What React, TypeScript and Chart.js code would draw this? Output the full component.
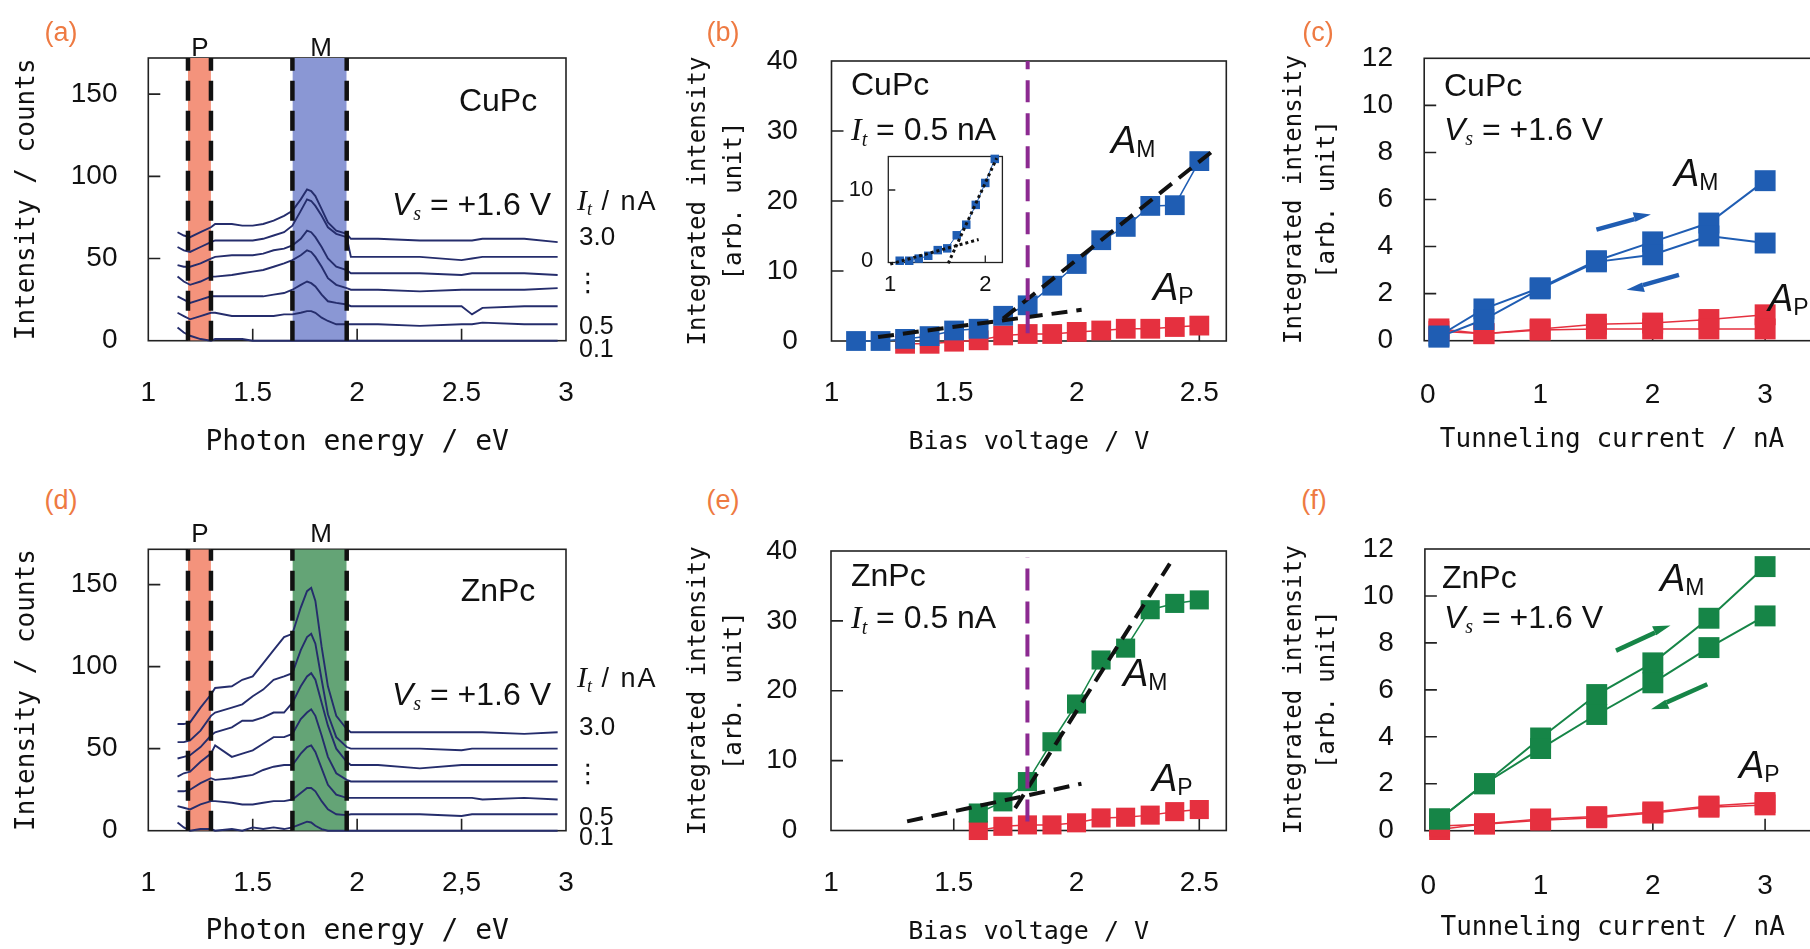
import React, { useEffect, useRef } from 'react';
import { Chart, registerables } from 'chart.js';

Chart.register(...registerables);

const SANS = "'Liberation Sans', Arial, Helvetica, sans-serif";
const SERIF = "'Liberation Serif', 'Times New Roman', serif";
const MONO = "'DejaVu Sans Mono', 'Liberation Mono', monospace";

const NAVY = '#252d6c';
const BLUE = '#1f5db3';
const RED = '#e5303f';
const GREEN = '#168547';
const PURPLE = '#8c2a91';
const SALMON = '#f4937c';
const PERI = '#8a97d4';
const MGREEN = '#64a476';
const ORANGE = '#ee7a42';
const INK = '#111111';

// ---------------- (a), (d) spectra ----------------
const photonEnergy = [1.14, 1.17, 1.2, 1.25, 1.3, 1.32, 1.4, 1.45, 1.5, 1.55, 1.6, 1.65, 1.69, 1.73, 1.76, 1.78, 1.8, 1.83, 1.86, 1.9, 1.95, 1.97, 2.1, 2.3, 2.5, 2.55, 2.6, 2.8, 2.96];
const cuSpec30 = [66, 64, 63, 66, 69, 71, 71, 70, 70, 71, 73, 76, 79, 86, 92, 91, 88, 80, 72, 67, 65, 62, 62, 61, 61, 61, 62, 62, 60];
const cuSpec25 = [57, 55, 54, 57, 60, 61, 61, 61, 61, 62, 64, 66, 70, 79, 86, 85, 82, 76, 69, 65, 63, 51, 51, 51, 49, 50, 51, 51, 51];
const cuSpec20 = [46, 45, 45, 47, 50, 51, 52, 52, 52, 53, 55, 56, 58, 62, 67, 66, 63, 57, 50, 45, 43, 41, 41, 41, 40, 41, 41, 41, 40];
const cuSpec15 = [39, 36, 34, 36, 39, 39, 40, 41, 42, 43, 45, 47, 49, 52, 55, 54, 51, 45, 38, 34, 32, 31, 31, 30, 31, 31, 31, 31, 32];
const cuSpec10 = [27, 25, 23, 25, 27, 27, 27, 27, 27, 27, 28, 29, 31, 34, 36, 35, 33, 28, 24, 23, 22, 21, 21, 21, 21, 16, 20, 21, 21];
const cuSpec05 = [17, 15, 13, 15, 17, 17, 15, 15, 15, 15, 15, 16, 16, 17, 18, 18, 17, 14, 12, 10, 10, 10, 10, 9, 10, 10, 11, 10, 10];
const cuSpec01 = [8, 5, 3, 1, 0, 1, 1, 1, 0, 0, 0, 0, 0, 0, 0, 0, 0, 0, 0, 0, 0, 0, 0, 0, 0, 0, 0, 0, 0];

const znSpec30 = [65, 65, 66, 75, 83, 87, 88, 92, 94, 102, 110, 118, 120, 136, 146, 148, 140, 112, 88, 70, 62, 60, 60, 60, 60, 60, 60, 59, 60];
const znSpec25 = [54, 54, 55, 61, 70, 72, 75, 77, 82, 86, 92, 94, 96, 110, 118, 120, 114, 92, 71, 57, 51, 50, 50, 50, 49, 50, 50, 50, 50];
const znSpec20 = [44, 45, 46, 51, 58, 60, 63, 67, 67, 69, 72, 72, 78, 88, 94, 96, 92, 78, 64, 50, 42, 40, 40, 38, 40, 40, 40, 40, 40];
const znSpec15 = [33, 35, 36, 42, 47, 52, 45, 47, 49, 53, 57, 57, 59, 68, 72, 74, 70, 58, 45, 35, 31, 30, 30, 30, 30, 30, 30, 30, 30];
const znSpec10 = [24, 24, 25, 29, 32, 31, 32, 33, 34, 37, 39, 40, 40, 47, 51, 52, 48, 38, 28, 22, 20, 20, 20, 20, 20, 20, 19, 20, 19];
const znSpec05 = [15, 14, 13, 16, 18, 18, 17, 16, 16, 17, 18, 18, 19, 23, 26, 26, 24, 18, 13, 10, 9.5, 10, 10, 10, 9, 10, 10, 10, 10];
const znSpec01 = [5, 2, 0, 1, 1, 0, 1, 0, 2, 1, 2, 1, 2, 4, 5.5, 5, 3, 1, 0, 0, 0, 0, 0, 0, 0, 0, 0, 0, 0];

const bandP = [1.19, 1.3];
const bandM = [1.69, 1.95];

const energyTicks = [1, 1.5, 2, 2.5, 3];
const energyLabelsCu = ['1', '1.5', '2', '2.5', '3'];
const energyLabelsZn = ['1', '1.5', '2', '2,5', '3'];
const countTicks = [0, 50, 100, 150];
const countLabels = ['0', '50', '100', '150'];

// ---------------- (b), (e) bias dependence ----------------
const biasCu = [1.1, 1.2, 1.3, 1.4, 1.5, 1.6, 1.7, 1.8, 1.9, 2.0, 2.1, 2.2, 2.3, 2.4, 2.5];
const cuAM = [0, 0, 0.3, 0.7, 1.5, 1.75, 3.6, 5.1, 7.9, 11.0, 14.4, 16.3, 19.3, 19.4, 25.7];
const biasCuP = [1.3, 1.4, 1.5, 1.6, 1.7, 1.8, 1.9, 2.0, 2.1, 2.2, 2.3, 2.4, 2.5];
const cuAP = [-0.4, -0.4, -0.1, 0.1, 0.8, 1.0, 1.0, 1.3, 1.5, 1.75, 1.75, 2.0, 2.2];
const cuFitLowX = [1.19, 2.02];
const cuFitLowY = [0.57, 4.45];
const cuFitHighX = [1.7, 2.56];
const cuFitHighY = [3.2, 27.3];
const cuThresholdY = [1.1, 40];

const insetFitLowX = [1.0, 1.93];
const insetFitLowY = [-0.47, 3.0];
const insetFitHighX = [1.61, 2.12];
const insetFitHighY = [-0.37, 14.5];

const biasZn = [1.6, 1.7, 1.8, 1.9, 2.0, 2.1, 2.2, 2.3, 2.4, 2.5];
const znAM = [2.5, 4.1, 7.0, 12.7, 18.1, 24.4, 26.1, 31.6, 32.5, 33.0];
const znAP = [0, 0.6, 0.8, 0.8, 1.1, 1.8, 1.9, 2.2, 2.7, 3.0];
const znFitLowX = [1.31, 2.02];
const znFitLowY = [1.3, 6.7];
const znFitHighX = [1.75, 2.38];
const znFitHighY = [3.2, 38.2];
const znThresholdY = [1.3, 39.1];

const thresholdV = 1.8;
const biasTicks = [1, 1.5, 2, 2.5];
const biasLabels = ['1', '1.5', '2', '2.5'];
const areaTicks = [0, 10, 20, 30, 40];
const areaLabels = ['0', '10', '20', '30', '40'];

// ---------------- (c), (f) current dependence ----------------
const currentUp = [0.1, 0.5, 1.0, 1.5, 2.0, 2.5, 3.0];
const currentDown = [3.0, 2.5, 2.0, 1.5, 1.0, 0.5, 0.1];
const cuAMup = [0.2, 1.35, 2.25, 3.4, 4.2, 5.0, 6.8];
const cuAMdown = [4.15, 4.45, 3.65, 3.35, 2.2, 0.9, 0.15];
const cuAPup = [0.4, 0.3, 0.5, 0.7, 0.75, 0.9, 1.1];
const cuAPdown = [0.5, 0.5, 0.5, 0.5, 0.45, 0.3, 0.5];
const znAMup = [0.5, 2.0, 3.95, 5.8, 7.15, 9.05, 11.25];
const znAMdown = [9.15, 7.8, 6.3, 4.95, 3.5, 2.0, 0.5];
const znAPup = [0.05, 0.3, 0.5, 0.6, 0.8, 1.05, 1.2];
const znAPdown = [1.1, 1.0, 0.75, 0.55, 0.45, 0.28, 0.2];
const cuArrows = [[1.5, 4.72, 1.985, 5.36], [2.234, 2.8, 1.768, 2.16]];
const znArrows = [[1.672, 7.67, 2.157, 8.74], [2.485, 6.24, 1.984, 5.17]];

const currentTicks = [0, 1, 2, 3];
const currentLabels = ['0', '1', '2', '3'];
const intTicks = [0, 2, 4, 6, 8, 10, 12];
const intLabels = ['0', '2', '4', '6', '8', '10', '12'];

// ---------------- helpers ----------------
const pts = (xs: number[], ys: number[]) => xs.map((x, i) => ({ x, y: ys[i] }));

function series(xs: number[], ys: number[], color: string, r: number, order: number, lw = 1.5) {
  return {
    data: pts(xs, ys), borderColor: color, backgroundColor: color, borderWidth: lw,
    pointStyle: 'rect', pointRadius: r, pointBorderWidth: 0, pointBackgroundColor: color,
    tension: 0, order, clip: false, fill: false,
  };
}
function dashed(xs: number[], ys: number[], color: string, w: number, dash: number[], order: number) {
  return { data: pts(xs, ys), borderColor: color, borderWidth: w, borderDash: dash, pointRadius: 0, order, clip: false, fill: false, tension: 0, borderCapStyle: 'butt' };
}
function band(x: number[], top: number, color: string) {
  return { data: [{ x: x[0], y: top }, { x: x[1], y: top }], borderWidth: 0, borderColor: 'rgba(0,0,0,0)', backgroundColor: color, fill: 'origin', pointRadius: 0, order: 40 };
}
function spectrum(ys: number[]) {
  return { data: pts(photonEnergy, ys), borderColor: NAVY, borderWidth: 1.9, pointRadius: 0, order: 20, fill: false, tension: 0, clip: false };
}

function axis(spec: any, isX: boolean, size: number) {
  return {
    type: 'linear', min: spec.min, max: spec.max,
    afterFit: (s: any) => {
      if (isX) s.height = size; else s.width = size;
      s.paddingTop = 0; s.paddingBottom = 0; s.paddingLeft = 0; s.paddingRight = 0;
    },
    afterBuildTicks: (s: any) => { s.ticks = spec.ticks.map((v: number) => ({ value: v })); },
    grid: { display: false, drawTicks: false },
    border: { display: false },
    ticks: {
      autoSkip: false, maxRotation: 0, minRotation: 0, padding: spec.pad, color: INK,
      font: { family: SANS, size: spec.font || 28, lineHeight: 1.2 },
      callback: (_v: any, i: number) => spec.labels[i],
    },
    title: spec.title
      ? { display: true, text: spec.title, align: spec.align || 'center', color: INK, font: { family: MONO, size: spec.tf, lineHeight: spec.tlh || 1.2 }, padding: { top: 0, bottom: 0 } }
      : { display: false },
  };
}

function framePlugin(xt: number[], yt: number[], len: number, lw = 1.6) {
  return {
    id: 'frame',
    beforeDatasetsDraw(chart: any) {
      const { ctx, chartArea: a, scales } = chart;
      ctx.save();
      ctx.strokeStyle = '#222';
      ctx.lineWidth = lw;
      ctx.strokeRect(a.left, a.top, a.right - a.left, a.bottom - a.top);
      ctx.beginPath();
      xt.forEach((v) => { const p = scales.x.getPixelForValue(v); ctx.moveTo(p, a.bottom); ctx.lineTo(p, a.bottom - len); });
      yt.forEach((v) => { const p = scales.y.getPixelForValue(v); ctx.moveTo(a.left, p); ctx.lineTo(a.left + len, p); });
      ctx.stroke();
      ctx.restore();
    },
  };
}

function arrowPlugin(arrows: number[][], color: string) {
  return {
    id: 'arrows',
    afterDatasetsDraw(chart: any) {
      const { ctx, scales } = chart;
      arrows.forEach(([x1, y1, x2, y2]) => {
        const ax = scales.x.getPixelForValue(x1), ay = scales.y.getPixelForValue(y1);
        const bx = scales.x.getPixelForValue(x2), by = scales.y.getPixelForValue(y2);
        const ang = Math.atan2(by - ay, bx - ax);
        const head = 17, hw = 7;
        const cx = bx - head * Math.cos(ang), cy = by - head * Math.sin(ang);
        ctx.save();
        ctx.strokeStyle = color; ctx.fillStyle = color; ctx.lineWidth = 4.5;
        ctx.beginPath(); ctx.moveTo(ax, ay); ctx.lineTo(cx, cy); ctx.stroke();
        ctx.beginPath();
        ctx.moveTo(bx, by);
        ctx.lineTo(cx + hw * Math.sin(ang), cy - hw * Math.cos(ang));
        ctx.lineTo(cx - hw * 0.4 * Math.sin(ang), cy + hw * 0.4 * Math.cos(ang));
        ctx.closePath(); ctx.fill();
        ctx.restore();
      });
    },
  };
}

function makeConfig(o: any) {
  return ({ yW, xH, padTop, padRight }: any) => ({
    type: 'line',
    data: { datasets: o.datasets },
    options: {
      responsive: false, animation: false, devicePixelRatio: 1, events: [],
      layout: { padding: { left: 0, top: padTop, right: padRight, bottom: 0 } },
      plugins: { legend: { display: false }, tooltip: { enabled: false } },
      scales: { x: axis(o.x, true, xH), y: axis(o.y, false, yW) },
    },
    plugins: o.plugins,
  });
}

function ChartPanel({ box, canvasLeft, canvasBottom, padTop = 22, padRight = 30, make }: any) {
  const ref = useRef<HTMLCanvasElement>(null);
  const top = Math.round(box[1] - padTop);
  const realPadTop = box[1] - top;
  const width = Math.round(box[2] + padRight - canvasLeft);
  const realPadRight = width - (box[2] - canvasLeft);
  const height = Math.round(canvasBottom - top);
  const yW = box[0] - canvasLeft;
  const xH = height - (box[3] - top);
  useEffect(() => {
    const chart = new Chart(ref.current as HTMLCanvasElement, make({ yW, xH, padTop: realPadTop, padRight: realPadRight }) as any);
    return () => chart.destroy();
  }, []);
  return <canvas ref={ref} width={width} height={height} style={{ position: 'absolute', left: canvasLeft, top, width, height }} />;
}

// ---------------- panel configs ----------------
const spectraPanel = (specs: number[][], mColor: string, ymax: number, labels: string[]) => makeConfig({
  datasets: [
    band(bandP, ymax, SALMON), band(bandM, ymax, mColor),
    ...specs.map(spectrum),
    dashed([bandP[0], bandP[0]], [0, ymax], '#111', 4.5, [20, 10], 10),
    dashed([bandP[1], bandP[1]], [0, ymax], '#111', 4.5, [20, 10], 10),
    dashed([bandM[0], bandM[0]], [0, ymax], '#111', 4.5, [20, 10], 10),
    dashed([bandM[1], bandM[1]], [0, ymax], '#111', 4.5, [20, 10], 10),
  ],
  x: { min: 1, max: 3, ticks: energyTicks, labels, pad: 35.8, title: 'Photon energy / eV', tf: 28 },
  y: { min: 0, max: ymax, ticks: countTicks, labels: countLabels, pad: 30.8, title: 'Intensity / counts', tf: 26 },
  plugins: [framePlugin([1.5, 2, 2.5], [50, 100, 150], 12)],
});

const cfgA = spectraPanel([cuSpec01, cuSpec05, cuSpec10, cuSpec15, cuSpec20, cuSpec25, cuSpec30], PERI, 172, energyLabelsCu);
const cfgD = spectraPanel([znSpec01, znSpec05, znSpec10, znSpec15, znSpec20, znSpec25, znSpec30], MGREEN, 171.5, energyLabelsZn);

const biasPanel = (main: any[], xPad: number) => makeConfig({
  datasets: main,
  x: { min: 1, max: 2.61, ticks: biasTicks, labels: biasLabels, pad: xPad, title: 'Bias voltage / V', tf: 25 },
  y: { min: 0, max: 40, ticks: areaTicks, labels: areaLabels, pad: 33.7, title: ['Integrated intensity', '[arb. unit]'], tf: 24, tlh: 1.525 },
  plugins: [framePlugin([1.5, 2, 2.5], [10, 20, 30], 12)],
});

const cfgB = biasPanel([
  series(biasCuP, cuAP, RED, 14, 30),
  series(biasCu, cuAM, BLUE, 14, 25),
  dashed(cuFitLowX, cuFitLowY, '#111', 4, [16, 9], 10),
  dashed(cuFitHighX, cuFitHighY, '#111', 4, [16, 9], 10),
  dashed([thresholdV, thresholdV], cuThresholdY, PURPLE, 4, [22, 11], 5),
], 35.5);

const cfgE = biasPanel([
  series(biasZn, znAP, RED, 13.5, 30),
  series(biasZn, znAM, GREEN, 13.5, 25),
  dashed(znFitLowX, znFitLowY, '#111', 4, [16, 9], 10),
  dashed(znFitHighX, znFitHighY, '#111', 4, [16, 9], 10),
  dashed([thresholdV, thresholdV], znThresholdY, PURPLE, 4, [22, 11], 5),
], 36);

const cfgInset = makeConfig({
  datasets: [
    series(biasCu.slice(0, 11), cuAM.slice(0, 11), BLUE, 6, 25, 1),
    dashed(insetFitLowX, insetFitLowY, '#111', 3, [3, 3], 10),
    dashed(insetFitHighX, insetFitHighY, '#111', 3, [3, 3], 10),
  ],
  x: { min: 0.98, max: 2.18, ticks: [1, 2], labels: ['1', '2'], pad: 9.3, font: 22 },
  y: { min: -0.25, max: 14.74, ticks: [0, 10], labels: ['0', '10'], pad: 15, font: 22 },
  plugins: [framePlugin([2], [10], 7, 1.3)],
});

const currentPanel = (amColor: string, amUp: number[], amDown: number[], apUp: number[], apDown: number[], arrows: number[][], xPad: number, xmax: number) => makeConfig({
  datasets: [
    series(currentUp, apUp, RED, 14.8, 31),
    series(currentDown, apDown, RED, 14.8, 30),
    series(currentUp, amUp, amColor, 14.8, 21, 2),
    series(currentDown, amDown, amColor, 14.8, 20, 2),
  ],
  x: { min: -0.031, max: xmax, ticks: currentTicks, labels: currentLabels, pad: xPad, title: ' Tunneling current / nA', tf: 26, align: 'start' },
  y: { min: 0, max: 12, ticks: intTicks, labels: intLabels, pad: 31.2, title: ['Integrated intensity', '[arb. unit]'], tf: 24, tlh: 1.39 },
  plugins: [framePlugin([1, 2, 3], [2, 4, 6, 8, 10], 12), arrowPlugin(arrows, amColor)],
});

const cfgC = currentPanel(BLUE, cuAMup, cuAMdown, cuAPup, cuAPdown, cuArrows, 37.5, 3.71);
const cfgF = currentPanel(GREEN, znAMup, znAMdown, znAPup, znAPdown, znArrows, 39.2, 3.712);

// ---------------- overlay texts ----------------
function T({ x, y, size = 32, anchor = 'left', color = INK, family = SANS, children, style }: any) {
  return (
    <div style={{
      position: 'absolute', left: x, top: y, transform: anchor === 'center' ? 'translate(-50%,-50%)' : 'translate(0,-50%)',
      fontSize: size, lineHeight: 1, fontFamily: family, color, whiteSpace: 'nowrap', ...style,
    }}>{children}</div>
  );
}
const Sub = ({ children, size = 20, top = 5, family = SERIF, italic = true }: any) => (
  <span style={{ fontSize: size, position: 'relative', top, fontFamily: family, fontStyle: italic ? 'italic' : 'normal' }}>{children}</span>
);
const Vs = () => (<><span style={{ fontStyle: 'italic' }}>V</span><Sub>s</Sub> = +1.6 V</>);
const ItEq = () => (<><span style={{ fontStyle: 'italic', fontFamily: SERIF }}>I</span><Sub top={6}>t</Sub> = 0.5 nA</>);
const ItUnit = () => (<><span style={{ fontStyle: 'italic', fontFamily: SERIF, fontSize: 30 }}>I</span><Sub size={18} top={5}>t</Sub><span style={{ fontSize: 27, letterSpacing: 2 }}> / nA</span></>);
const Amp = ({ s }: any) => (<><span style={{ fontStyle: 'italic' }}>A</span><Sub size={23} top={4} family={SANS} italic={false}>{s}</Sub></>);

function SpectraLabels({ name, yP, yName, yVs, yIt, y30, yDots, y05, y01 }: any) {
  return (
    <>
      <T x={200} y={yP} size={26} anchor="center">P</T>
      <T x={321} y={yP} size={26} anchor="center">M</T>
      <T x={498} y={yName} size={32} anchor="center">{name}</T>
      <T x={392} y={yVs} size={32}><Vs /></T>
      <T x={577} y={yIt} size={27}><ItUnit /></T>
      <T x={579} y={y30} size={26}>3.0</T>
      <T x={588} y={yDots} size={26} anchor="center" family="'DejaVu Sans', sans-serif">⋮</T>
      <T x={579} y={y05} size={25}>0.5</T>
      <T x={579} y={y01} size={25}>0.1</T>
    </>
  );
}

export default function App() {
  return (
    <div style={{ position: 'absolute', left: 0, top: 0, width: 1810, height: 949, overflow: 'hidden', background: '#fff' }}>
      <ChartPanel box={[148.3, 58, 566, 340.7]} canvasLeft={12} canvasBottom={460} make={cfgA} />
      <ChartPanel box={[148.3, 549.3, 566, 830.7]} canvasLeft={12} canvasBottom={948.5} make={cfgD} />
      <ChartPanel box={[831.5, 61, 1226.3, 341]} canvasLeft={680} canvasBottom={456.7} make={cfgB} />
      <ChartPanel box={[831, 551, 1226.3, 830.5]} canvasLeft={680} canvasBottom={946.7} make={cfgE} />
      <ChartPanel box={[1424.2, 58.3, 1845, 340.7]} canvasLeft={1278} canvasBottom={455.6} make={cfgC} />
      <ChartPanel box={[1424.9, 549, 1845, 830.7]} canvasLeft={1278} canvasBottom={943.9} make={cfgF} />
      <ChartPanel box={[888.3, 156.5, 1002.4, 262.5]} canvasLeft={843} canvasBottom={305} padTop={15} padRight={15} make={cfgInset} />

      <T x={61} y={32} size={27} anchor="center" color={ORANGE}>(a)</T>
      <T x={723} y={32} size={27} anchor="center" color={ORANGE}>(b)</T>
      <T x={1318} y={32} size={27} anchor="center" color={ORANGE}>(c)</T>
      <T x={61} y={500} size={27} anchor="center" color={ORANGE}>(d)</T>
      <T x={723} y={500} size={27} anchor="center" color={ORANGE}>(e)</T>
      <T x={1314} y={500} size={27} anchor="center" color={ORANGE}>(f)</T>

      <SpectraLabels name="CuPc" yP={47} yName={100} yVs={204} yIt={200} y30={236} yDots={282} y05={325} y01={348} />
      <SpectraLabels name="ZnPc" yP={533} yName={590} yVs={694} yIt={677} y30={726} yDots={773} y05={816} y01={836} />

      <T x={851} y={84}>CuPc</T>
      <T x={851} y={129}><ItEq /></T>
      <T x={1111} y={140} size={38}><Amp s="M" /></T>
      <T x={1153} y={287} size={38}><Amp s="P" /></T>

      <T x={851} y={575}>ZnPc</T>
      <T x={851} y={617}><ItEq /></T>
      <T x={1123} y={673} size={38}><Amp s="M" /></T>
      <T x={1152} y={778} size={38}><Amp s="P" /></T>

      <T x={1444} y={85}>CuPc</T>
      <T x={1444} y={129}><Vs /></T>
      <T x={1674} y={173} size={38}><Amp s="M" /></T>
      <T x={1768} y={298} size={38}><Amp s="P" /></T>

      <T x={1442} y={577}>ZnPc</T>
      <T x={1444} y={617}><Vs /></T>
      <T x={1660} y={578} size={38}><Amp s="M" /></T>
      <T x={1739} y={765} size={38}><Amp s="P" /></T>
    </div>
  );
}
